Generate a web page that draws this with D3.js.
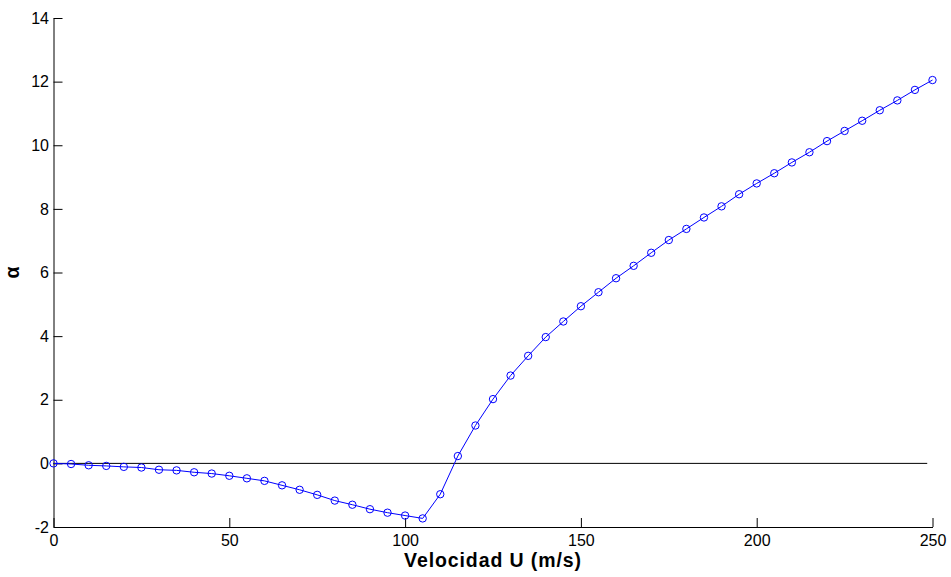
<!DOCTYPE html>
<html>
<head>
<meta charset="utf-8">
<script src="https://cdn.jsdelivr.net/npm/d3@7"></script>
<style>
	body { margin: 0; background: #fff; }
	svg { display: block; font-family: Arial, "Liberation Sans", sans-serif; }
	.tick text { font-size: 16px; fill: #000; }
	.axis-label { font-size: 19.5px; font-weight: bold; fill: #000; }
</style>
</head>
<body>
<svg id="chart" width="951" height="577"></svg>
<script>
// velocity U (m/s) and alpha
const VELOCITY = [0, 5, 10, 15, 20, 25, 30, 35, 40, 45, 50, 55, 60, 65, 70, 75, 80, 85, 90, 95,
	100, 105, 110, 115, 120, 125, 130, 135, 140, 145, 150, 155, 160, 165, 170, 175, 180, 185, 190, 195,
	200, 205, 210, 215, 220, 225, 230, 235, 240, 245, 250];
const ALPHA = [0, -0.02, -0.06, -0.08, -0.11, -0.13, -0.2, -0.22, -0.28, -0.32, -0.39, -0.47, -0.55, -0.69, -0.83, -0.99, -1.17, -1.3, -1.44, -1.55,
	-1.64, -1.73, -0.97, 0.23, 1.19, 2.02, 2.76, 3.38, 3.97, 4.46, 4.94, 5.38, 5.82, 6.21, 6.62, 7.02, 7.37, 7.73, 8.08, 8.46,
	8.8, 9.12, 9.46, 9.78, 10.13, 10.45, 10.77, 11.1, 11.41, 11.74, 12.05];
const ZERO_LINE_X = [0, 248.5];
const X_TICKS = [0, 50, 100, 150, 200, 250];
const Y_TICKS = [-2, 0, 2, 4, 6, 8, 10, 12, 14];

const MARGIN = { top: 18, right: 18.5, bottom: 50, left: 53.5 };

function whenDocumentLoaded(action) {
	if (document.readyState === "loading") {
		document.addEventListener("DOMContentLoaded", action);
	} else {
		action();
	}
}

whenDocumentLoaded(() => {
	const svg = d3.select("#chart");
	const width = +svg.attr("width");
	const height = +svg.attr("height");

	const x = d3.scaleLinear().domain([0, 250]).range([MARGIN.left, width - MARGIN.right]);
	const y = d3.scaleLinear().domain([-2, 14]).range([height - MARGIN.bottom, MARGIN.top]);

	const data = VELOCITY.map((v, i) => ({ x: v, y: ALPHA[i] }));

	// axes, ticks pointing inwards; plain hyphen for negatives like the original
	const fmt = d => String(d);
	const xAxis = d3.axisBottom(x).tickValues(X_TICKS).tickFormat(fmt).tickSizeInner(-9).tickSizeOuter(0).tickPadding(7.5);
	const yAxis = d3.axisLeft(y).tickValues(Y_TICKS).tickFormat(fmt).tickSizeInner(-9).tickSizeOuter(0).tickPadding(4.5);

	svg.append("g")
		.attr("transform", `translate(0,${height - MARGIN.bottom})`)
		.call(xAxis);
	svg.append("g")
		.attr("transform", `translate(${MARGIN.left},0)`)
		.call(yAxis);
	svg.selectAll(".domain, .tick line").attr("stroke", "#000");
	svg.selectAll(".tick text").attr("fill", "#000");

	// zero reference line
	svg.append("line")
		.attr("x1", x(ZERO_LINE_X[0]))
		.attr("x2", x(ZERO_LINE_X[1]))
		.attr("y1", y(0))
		.attr("y2", y(0))
		.attr("stroke", "#000")
		.attr("stroke-width", 1);

	// series
	const line = d3.line().x(d => x(d.x)).y(d => y(d.y));
	svg.append("path")
		.datum(data)
		.attr("d", line)
		.attr("fill", "none")
		.attr("stroke", "#0000ff")
		.attr("stroke-width", 1);

	svg.selectAll("circle.pt")
		.data(data)
		.enter()
		.append("circle")
		.attr("class", "pt")
		.attr("cx", d => x(d.x))
		.attr("cy", d => y(d.y))
		.attr("r", 3.7)
		.attr("fill", "none")
		.attr("stroke", "#0000ff")
		.attr("stroke-width", 1);

	// axis labels
	svg.append("text")
		.attr("class", "axis-label")
		.attr("x", (x.range()[0] + x.range()[1]) / 2)
		.attr("y", 567)
		.attr("text-anchor", "middle")
		.style("letter-spacing", "0.9px")
		.text("Velocidad U (m/s)");

	svg.append("text")
		.attr("class", "axis-label")
		.attr("transform", `translate(19,${(y.range()[0] + y.range()[1]) / 2}) rotate(-90)`)
		.attr("text-anchor", "middle")
		.text("α");
});
</script>
</body>
</html>
